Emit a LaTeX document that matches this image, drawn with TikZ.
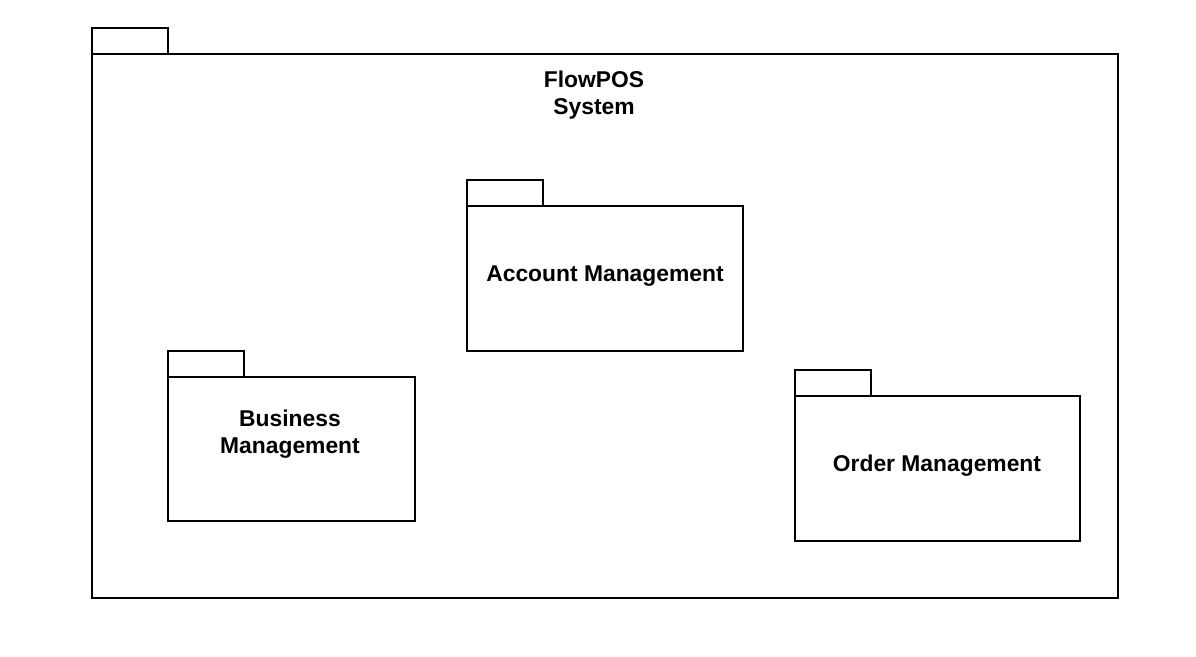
\documentclass[tikz,border=0pt]{standalone}
\usepackage{fontspec}
\setmainfont{Liberation Sans}

\tikzset{
  pkgline/.style={draw, line width=1.1pt},
  pkgbody/.style={pkgline, inner sep=0pt, outer sep=0pt, anchor=north west},
  pkglabel/.style={font=\fontsize{13}{15.4}\selectfont\bfseries, align=center, inner sep=0pt}
}

\begin{document}
\begin{tikzpicture}[x=0.02cm, y=-0.02cm]
        \useasboundingbox (0,0) rectangle (1196,656);

        % outer package
        \node[pkgbody, minimum width=20.52cm, minimum height=10.88cm] (system) at (92,54) {};
        \draw[pkgline] (system.north west) rectangle ++(76,-26);
        \node[pkglabel] (systemlabel) at (594,95) {FlowPOS\\System};

        % inner packages
        \node[pkgbody, minimum width=5.52cm, minimum height=2.9cm] (account) at (467,206) {};
        \draw[pkgline] (account.north west) rectangle ++(76,-26);
        \node[pkglabel] (accountlabel) at (605,276) {Account Management};

        \node[pkgbody, minimum width=4.94cm, minimum height=2.88cm] (business) at (168,377) {};
        \draw[pkgline] (business.north west) rectangle ++(76,-26);
        \node[pkglabel] (businesslabel) at (290,434) {Business\\Management};

        \node[pkgbody, minimum width=5.7cm, minimum height=2.9cm] (order) at (795,396) {};
        \draw[pkgline] (order.north west) rectangle ++(76,-26);
        \node[pkglabel] (orderlabel) at (937,466) {Order Management};
    \end{tikzpicture}
\end{document}
